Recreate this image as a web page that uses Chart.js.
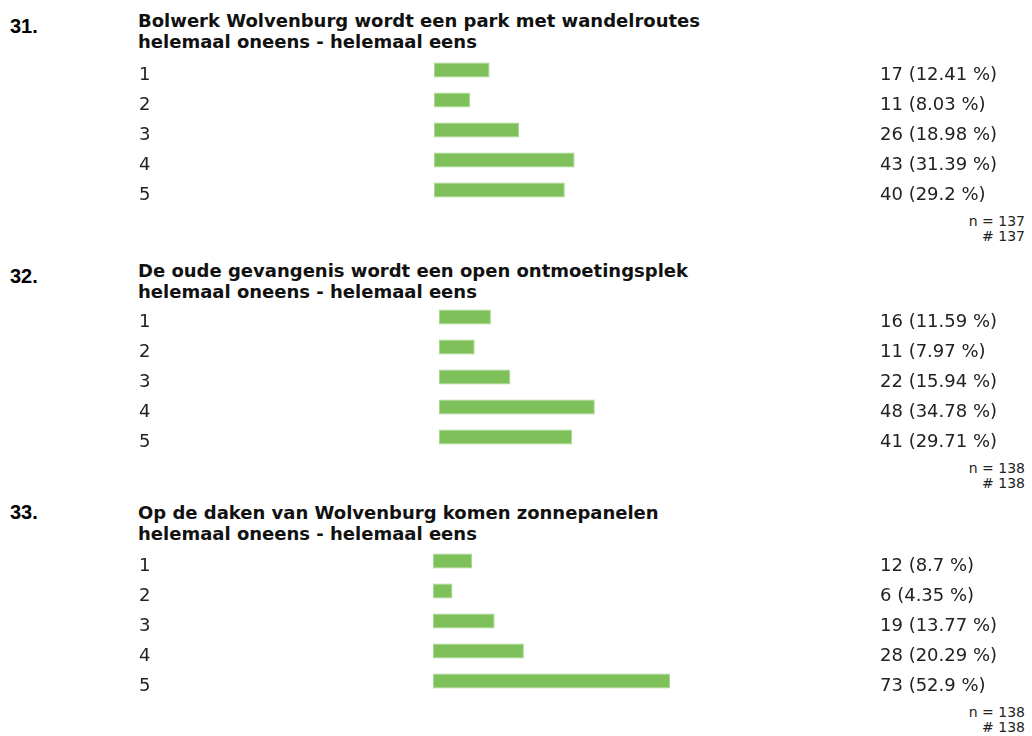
<!DOCTYPE html>
<html>
<head>
<meta charset="utf-8">
<script src="https://cdn.jsdelivr.net/npm/chart.js@4.4.1/dist/chart.umd.min.js"></script>
<style>
  html, body { margin: 0; padding: 0; background: #fff; }
  body { width: 1032px; height: 736px; position: relative; overflow: hidden; }
  .qnr { position: absolute; left: 10px; font: bold 20px "Liberation Sans", Arial, sans-serif; line-height: 24px; color: #000; }
  .qtitle { position: absolute; left: 138px; font: bold 18px "DejaVu Sans", Verdana, sans-serif; line-height: 21px; color: #111; white-space: nowrap; }
  .ncount { position: absolute; right: 7px; font: 14px "DejaVu Sans", Verdana, sans-serif; line-height: 15px; color: #222; text-align: right; }
  canvas { position: absolute; left: 0; }
</style>
</head>
<body>

<div class="qnr" style="top:14px">31.</div>
<div class="qtitle" style="top:10px">Bolwerk Wolvenburg wordt een park met wandelroutes<br>helemaal oneens - helemaal eens</div>
<canvas id="q31" width="1032" height="150" style="top:55px"></canvas>
<div class="ncount" style="top:214px">n = 137<br># 137</div>

<div class="qnr" style="top:264px">32.</div>
<div class="qtitle" style="top:260px">De oude gevangenis wordt een open ontmoetingsplek<br>helemaal oneens - helemaal eens</div>
<canvas id="q32" width="1032" height="150" style="top:302px"></canvas>
<div class="ncount" style="top:461px">n = 138<br># 138</div>

<div class="qnr" style="top:500px">33.</div>
<div class="qtitle" style="top:502px">Op de daken van Wolvenburg komen zonnepanelen<br>helemaal oneens - helemaal eens</div>
<canvas id="q33" width="1032" height="150" style="top:546px"></canvas>
<div class="ncount" style="top:705px">n = 138<br># 138</div>

<script>
// antwoordschaal 1 t/m 5
const categories = ['1', '2', '3', '4', '5'];

// vraag 31
const q31Counts = [17, 11, 26, 43, 40];
const q31Pct = [12.41, 8.03, 18.98, 31.39, 29.2];

// vraag 32
const q32Counts = [16, 11, 22, 48, 41];
const q32Pct = [11.59, 7.97, 15.94, 34.78, 29.71];

// vraag 33
const q33Counts = [12, 6, 19, 28, 73];
const q33Pct = [8.7, 4.35, 13.77, 20.29, 52.9];

const barColor = '#7ec05a';
const textFont = '"DejaVu Sans", Verdana, sans-serif';

// schrijft "aantal (pct %)" rechts naast de balken
const valueLabels = {
    id: 'valueLabels',
    afterDatasetsDraw(chart, args, opts) {
        const ctx = chart.ctx;
        const yScale = chart.scales.y;
        const pct = chart.data.datasets[0].data;
        ctx.save();
        ctx.font = '18px ' + textFont;
        ctx.fillStyle = '#222';
        ctx.textAlign = 'left';
        ctx.textBaseline = 'middle';
        opts.counts.forEach((c, i) => {
            ctx.fillText(c + ' (' + pct[i] + ' %)', opts.x, yScale.getPixelForValue(i) + 5);
        });
        ctx.restore();
    }
};

function initVraagChart(elementId, counts, pct, barStart) {
    const canvas = document.getElementById(elementId);
    if (!canvas) {
        console.error('canvas niet gevonden: ' + elementId);
        return;
    }
    const labelLeft = 139;
    const plotWidth = 448; // 100 %

    new Chart(canvas.getContext('2d'), {
        type: 'bar',
        data: {
            labels: categories,
            datasets: [{
                data: pct,
                backgroundColor: barColor,
                borderColor: '#a9d791',
                borderWidth: 1,
                borderSkipped: false,
                categoryPercentage: 1,
                barPercentage: 0.5
            }]
        },
        plugins: [valueLabels],
        options: {
            indexAxis: 'y',
            responsive: false,
            devicePixelRatio: 1,
            animation: false,
            events: [],
            layout: {
                padding: { left: labelLeft, right: 1032 - barStart - plotWidth, top: 0, bottom: 0 }
            },
            plugins: {
                legend: { display: false },
                tooltip: { enabled: false },
                valueLabels: { counts: counts, x: 880 }
            },
            scales: {
                x: {
                    display: false,
                    min: 0,
                    max: 100
                },
                y: {
                    grid: { display: false },
                    border: { display: false },
                    afterFit(scale) {
                        scale.width = barStart - labelLeft;
                        // geen extra ruimte boven/onder voor de labels
                        scale.paddingTop = 0;
                        scale.paddingBottom = 0;
                    },
                    ticks: {
                        color: '#222',
                        font: { family: textFont, size: 18 },
                        crossAlign: 'far',
                        padding: 0,
                        labelOffset: 5
                    }
                }
            }
        }
    });
}

initVraagChart('q31', q31Counts, q31Pct, 434);
initVraagChart('q32', q32Counts, q32Pct, 439);
initVraagChart('q33', q33Counts, q33Pct, 433);
</script>
</body>
</html>
